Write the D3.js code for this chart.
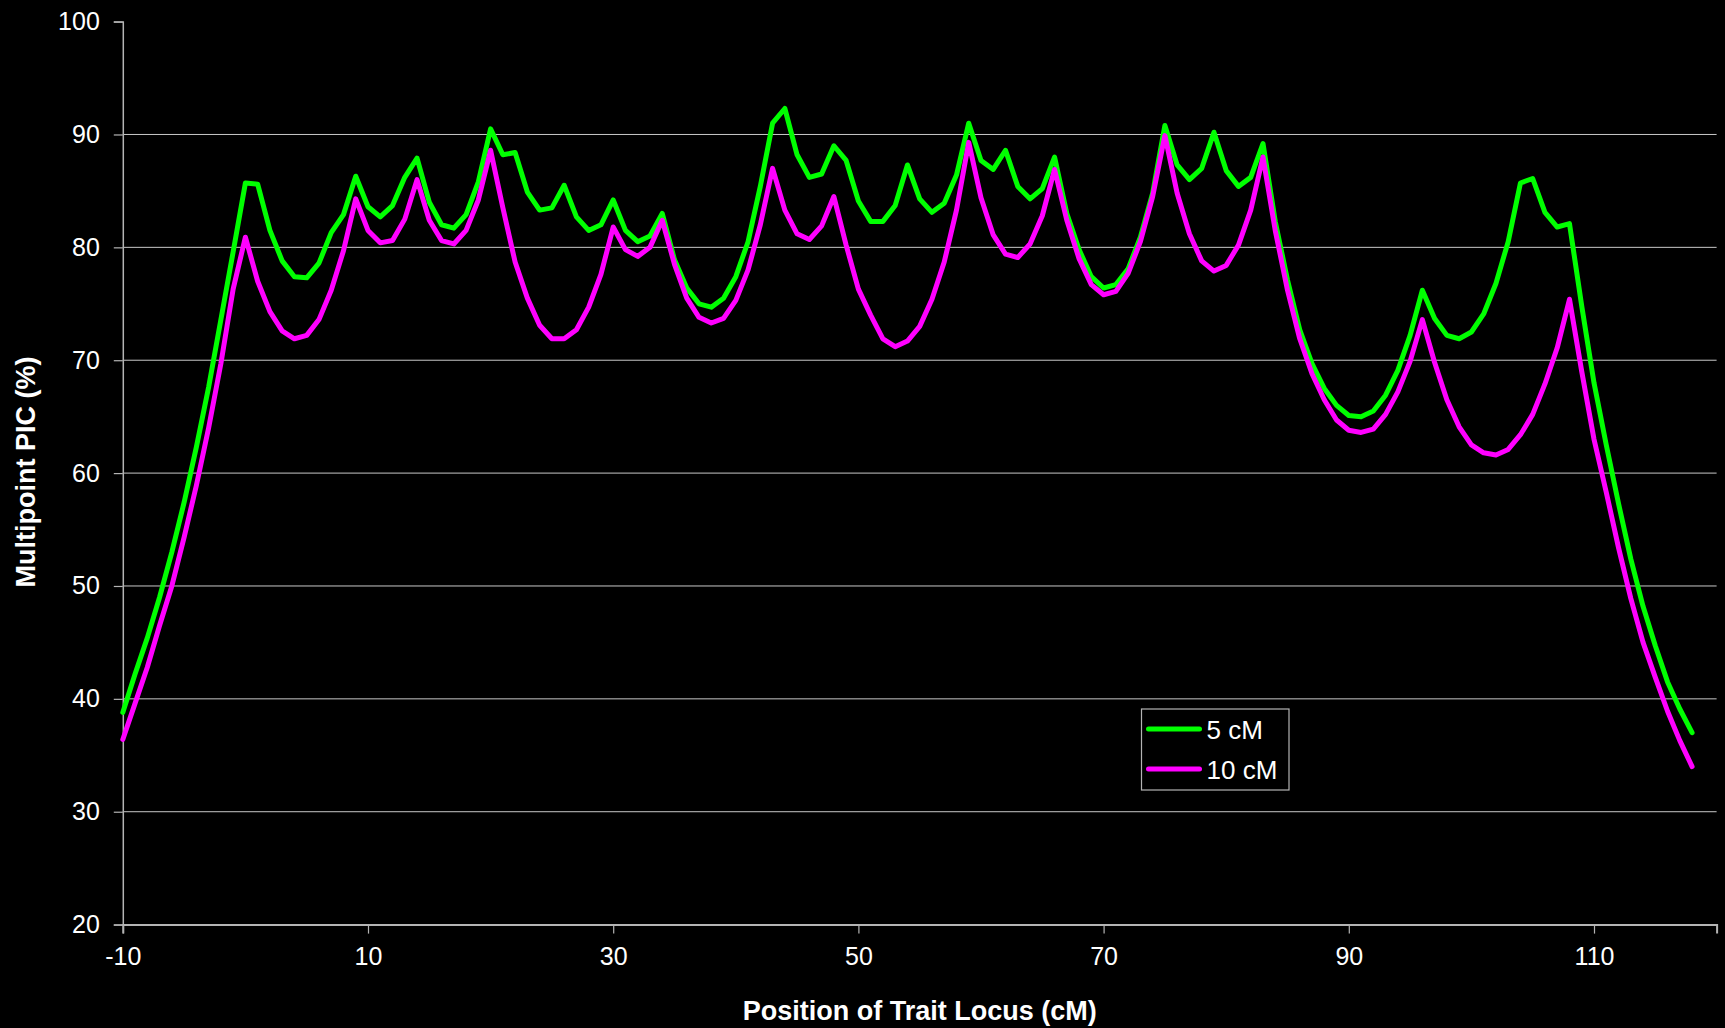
<!DOCTYPE html>
<html>
<head>
<meta charset="utf-8">
<script src="https://cdn.jsdelivr.net/npm/d3@7"></script>
<style>
  html, body { margin: 0; padding: 0; background: #000; }
  svg { display: block; }
  text { font-family: "Liberation Sans", Arial, sans-serif; fill: #fff; }
</style>
</head>
<body>
<svg id="chart" width="1725" height="1028"></svg>
<script>
// Position of trait locus (cM), one point per cM from -10 to 118
const positions = d3.range(-10, 119);

// Multipoint PIC (%) with markers every 5 cM
const pic5cM = [
  38.8, 42.2, 45.4, 49.0, 53.0, 57.4, 62.3, 67.6, 73.6, 79.6,
  85.7, 85.6, 81.5, 78.8, 77.4, 77.3, 78.6, 81.3, 82.9, 86.3,
  83.6, 82.7, 83.7, 86.2, 87.9, 84.0, 82.0, 81.7, 82.9, 85.8,
  90.5, 88.2, 88.4, 84.9, 83.3, 83.5, 85.5, 82.7, 81.5, 82.0,
  84.2, 81.5, 80.5, 81.0, 83.0, 78.9, 76.4, 75.0, 74.7, 75.5,
  77.4, 80.5, 85.4, 91.0, 92.3, 88.2, 86.2, 86.5, 89.0, 87.7,
  84.1, 82.3, 82.3, 83.7, 87.3, 84.3, 83.1, 83.9, 86.4, 91.0,
  87.7, 86.9, 88.6, 85.4, 84.3, 85.2, 88.0, 83.0, 79.8, 77.4,
  76.4, 76.7, 78.1, 80.9, 84.8, 90.8, 87.3, 86.0, 87.0, 90.2,
  86.8, 85.4, 86.2, 89.2, 82.3, 77.1, 72.7, 69.7, 67.5, 66.0,
  65.1, 65.0, 65.5, 66.9, 69.1, 72.2, 76.2, 73.7, 72.2, 71.9,
  72.5, 74.1, 76.8, 80.5, 85.7, 86.1, 83.1, 81.8, 82.1, 74.8,
  68.0, 62.5, 57.3, 52.4, 48.2, 44.7, 41.5, 39.1, 37.0
];

// Multipoint PIC (%) with markers every 10 cM
const pic10cM = [
  36.4, 39.6, 42.8, 46.5, 50.0, 54.3, 58.9, 64.0, 69.7, 76.3,
  80.9, 77.0, 74.3, 72.6, 71.9, 72.2, 73.6, 76.2, 79.7, 84.3,
  81.5, 80.4, 80.6, 82.5, 86.0, 82.4, 80.6, 80.3, 81.5, 84.2,
  88.6, 83.5, 78.7, 75.5, 73.1, 71.9, 71.9, 72.7, 74.7, 77.6,
  81.8, 79.8, 79.2, 80.0, 82.4, 78.5, 75.5, 73.8, 73.3, 73.7,
  75.3, 78.0, 82.0, 87.0, 83.3, 81.2, 80.7, 81.9, 84.5, 80.2,
  76.3, 74.0, 71.9, 71.2, 71.7, 73.0, 75.4, 78.7, 83.3, 89.3,
  84.4, 81.1, 79.4, 79.1, 80.3, 82.8, 86.9, 82.4, 79.0, 76.7,
  75.8, 76.1, 77.7, 80.5, 84.5, 89.9, 84.8, 81.2, 78.8, 77.9,
  78.4, 80.2, 83.3, 88.0, 81.5, 76.2, 71.9, 68.8, 66.5, 64.7,
  63.8, 63.6, 63.9, 65.2, 67.2, 69.9, 73.6, 69.8, 66.5, 64.1,
  62.5, 61.8, 61.6, 62.1, 63.4, 65.2, 67.9, 71.1, 75.4, 69.0,
  63.0, 58.3, 53.4, 48.9, 45.0, 41.9, 38.9, 36.3, 34.0
];

const seriesNames = ["5 cM", "10 cM"];
const seriesColors = ["#00ff00", "#ff00ff"];
const xTicks = [-10, 10, 30, 50, 70, 90, 110];
const yTicks = [20, 30, 40, 50, 60, 70, 80, 90, 100];
const xTitle = "Position of Trait Locus (cM)";
const yTitle = "Multipoint PIC (%)";

const svg = d3.select("#chart");
const plot = { left: 122.8, right: 1716.6, top: 21.6, bottom: 924.6 };

const x = d3.scaleLinear().domain([-10, 120]).range([plot.left, plot.right]);
const y = d3.scaleLinear().domain([20, 100]).range([plot.bottom, plot.top]);

svg.append("rect").attr("width", 1725).attr("height", 1028).attr("fill", "#000");

// horizontal gridlines
svg.append("g")
  .selectAll("line")
  .data(yTicks.filter(v => v > 20 && v < 100))
  .join("line")
  .attr("x1", plot.left).attr("x2", plot.right)
  .attr("y1", d => y(d)).attr("y2", d => y(d))
  .attr("stroke", "#c8c8c8").attr("stroke-width", 1);

// y axis
const yAxis = svg.append("g")
  .attr("transform", `translate(${plot.left},0)`)
  .call(d3.axisLeft(y).tickValues(yTicks).tickSize(9).tickPadding(14).tickFormat(d => String(d)));
yAxis.select(".domain").attr("stroke", "#b4b4b4").attr("stroke-width", 1.5);
yAxis.selectAll(".tick line").attr("stroke", "#b4b4b4").attr("stroke-width", 1.2);
yAxis.selectAll(".tick text")
  .attr("fill", "#fff").attr("font-size", 25)
  .attr("font-family", "'Liberation Sans', Arial, sans-serif");

// x axis
const xAxis = svg.append("g")
  .attr("transform", `translate(0,${plot.bottom})`)
  .call(d3.axisBottom(x).tickValues(xTicks).tickSize(9).tickPadding(14).tickFormat(d => String(d)));
xAxis.select(".domain").attr("stroke", "#b4b4b4").attr("stroke-width", 2);
xAxis.selectAll(".tick line").attr("stroke", "#b4b4b4").attr("stroke-width", 1.2);
xAxis.selectAll(".tick text")
  .attr("fill", "#fff").attr("font-size", 25)
  .attr("font-family", "'Liberation Sans', Arial, sans-serif");

// axis titles
svg.append("text")
  .attr("x", (plot.left + plot.right) / 2).attr("y", 1020)
  .attr("text-anchor", "middle")
  .attr("font-size", 27).attr("font-weight", "bold")
  .text(xTitle);

svg.append("text")
  .attr("transform", "translate(35,472) rotate(-90)")
  .attr("text-anchor", "middle")
  .attr("font-size", 27).attr("font-weight", "bold")
  .text(yTitle);

// series lines
const line = d3.line()
  .x((d, i) => x(positions[i]))
  .y(d => y(d));

[pic5cM, pic10cM].forEach((vals, k) => {
  svg.append("path")
    .datum(vals)
    .attr("d", line)
    .attr("fill", "none")
    .attr("stroke", seriesColors[k])
    .attr("stroke-width", 5)
    .attr("stroke-linejoin", "round")
    .attr("stroke-linecap", "round");
});

// legend
const legend = svg.append("g").attr("transform", "translate(1141.5,709)");
legend.append("rect")
  .attr("width", 147.5).attr("height", 81)
  .attr("fill", "#000").attr("stroke", "#b4b4b4").attr("stroke-width", 1.2);
seriesNames.forEach((name, k) => {
  const cy = 20 + k * 40;
  legend.append("line")
    .attr("x1", 7).attr("x2", 58).attr("y1", cy).attr("y2", cy)
    .attr("stroke", seriesColors[k]).attr("stroke-width", 5)
    .attr("stroke-linecap", "round");
  legend.append("text")
    .attr("x", 65).attr("y", cy + 10)
    .attr("font-size", 26)
    .text(name);
});
</script>
</body>
</html>
